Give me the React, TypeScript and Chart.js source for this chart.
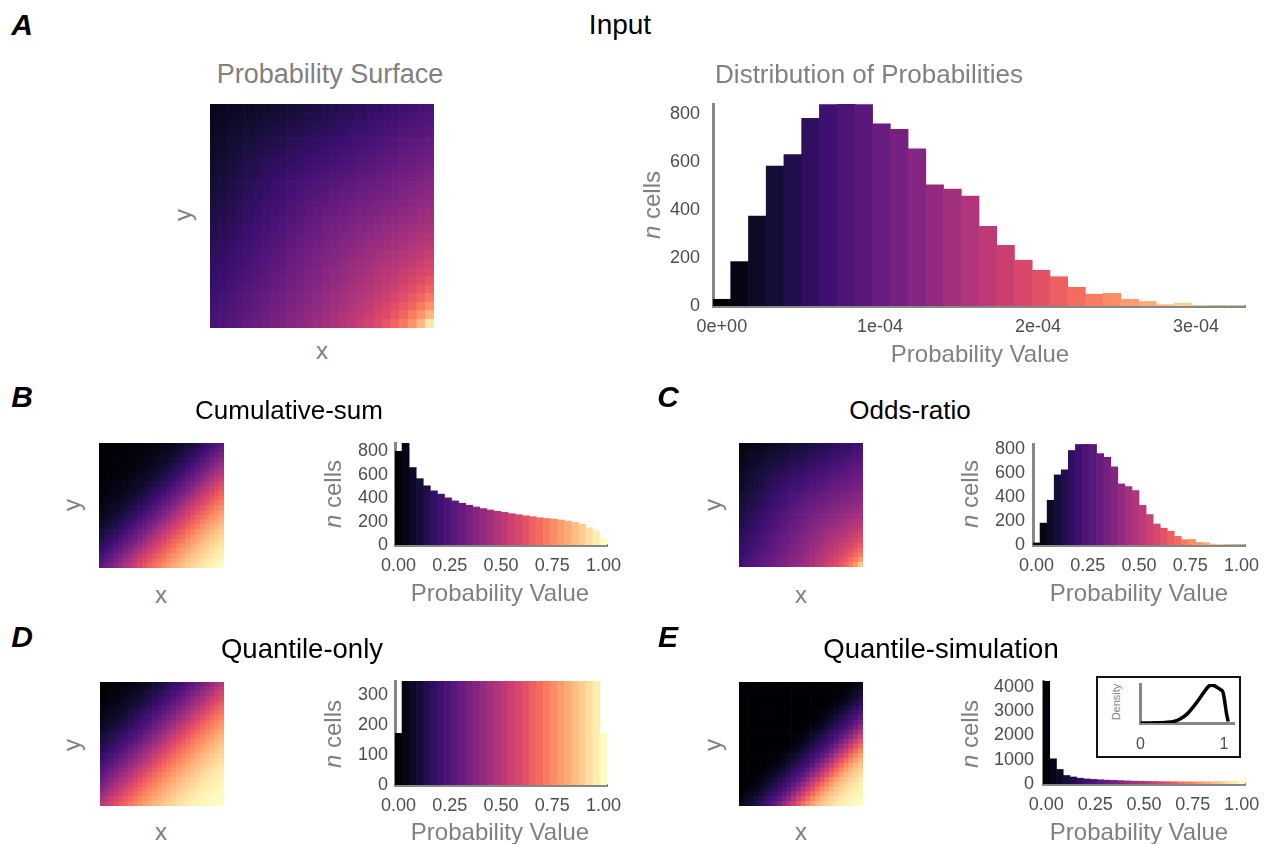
import React, { useEffect, useRef } from "react";
import { Chart, registerables } from "chart.js";
Chart.register(...registerables);

const FONT = '"Liberation Sans", Arial, Helvetica, sans-serif';
const TITLE_GRAY = "#808080";
const TICK_GRAY = "#4d4d4d";
const AXIS_GRAY = "#878787";

// magma colour map stops
const MAGMA = ["#000004", "#140e36", "#3b0f70", "#641a80", "#8c2981", "#b73779", "#de4968", "#f7705c", "#fe9f6d", "#fecf92", "#fcfdbf"];

// ---------- histogram data (counts per bin) ----------
const HIST_A_COUNTS = [28, 185, 375, 583, 631, 782, 840, 842, 840, 759, 736, 655, 505, 487, 458, 332, 253, 191, 149, 122, 78, 49, 53, 28, 19, 6, 12, 2, 1, 1];
const HIST_A_BIN = 1.122e-5;
const HIST_A_Y_MAX = 842;
const HIST_A_Y_TICKS = [0, 200, 400, 600, 800];
const HIST_A_X_TICKS = [0, 1e-4, 2e-4, 3e-4];
const HIST_A_X_LABELS = ["0e+00", "1e-04", "2e-04", "3e-04"];

const UNIT_BIN = 1 / 29;
const UNIT_X_TICKS = [0, 0.25, 0.5, 0.75, 1];
const UNIT_X_LABELS = ["0.00", "0.25", "0.50", "0.75", "1.00"];

const HIST_B_COUNTS = [800, 872, 662, 567, 506, 463, 435, 403, 377, 357, 340, 325, 311, 299, 288, 279, 268, 259, 250, 242, 233, 227, 222, 213, 204, 193, 178, 147, 120, 58];
const HIST_B_Y_MAX = 872;
const HIST_B_Y_TICKS = [0, 200, 400, 600, 800];

const HIST_C_COUNTS = [17, 182, 372, 583, 625, 786, 836, 838, 836, 760, 730, 650, 508, 486, 453, 330, 253, 175, 139, 114, 72, 44, 46, 22, 19, 8, 6, 3, 1, 1];
const HIST_C_Y_MAX = 840;
const HIST_C_Y_TICKS = [0, 200, 400, 600, 800];

const HIST_D_COUNTS = [172, 345, 345, 345, 345, 345, 345, 345, 345, 345, 345, 345, 345, 345, 345, 345, 345, 345, 345, 345, 345, 345, 345, 345, 345, 345, 345, 345, 345, 172];
const HIST_D_Y_MAX = 346;
const HIST_D_Y_TICKS = [0, 100, 200, 300];

const HIST_E_COUNTS = [4250, 1040, 600, 350, 290, 240, 210, 190, 175, 160, 150, 140, 130, 120, 115, 110, 105, 100, 95, 95, 90, 90, 90, 95, 95, 100, 105, 110, 120, 130];
const HIST_E_Y_MAX = 4250;
const HIST_E_Y_TICKS = [0, 1000, 2000, 3000, 4000];

// inset density curve (panel E)
const DENS_X = [0, 0.1, 0.2, 0.3, 0.4, 0.47, 0.55, 0.62, 0.7, 0.76, 0.8, 0.84, 0.88, 0.92, 0.96, 0.99, 1.01, 1.03, 1.05];
const DENS_Y = [0, 0.003, 0.008, 0.015, 0.04, 0.1, 0.22, 0.39, 0.62, 0.81, 0.93, 1.0, 0.99, 0.94, 0.88, 0.8, 0.55, 0.25, 0.04];
const DENS_X_TICKS = [0, 1];
const DENS_X_LABELS = ["0", "1"];

// ---------- surfaces: colour value along the TL->BR diagonal (index i+j) ----------
const HEAT_N = 26;
const SURF_A = [0.04, 0.05, 0.058, 0.066, 0.075, 0.084, 0.093, 0.103, 0.112, 0.122, 0.132, 0.142, 0.152, 0.162, 0.173, 0.184, 0.195, 0.206, 0.218, 0.23, 0.242, 0.254, 0.266, 0.279, 0.292, 0.305, 0.318, 0.331, 0.344, 0.357, 0.37, 0.383, 0.396, 0.409, 0.423, 0.437, 0.452, 0.467, 0.483, 0.5, 0.518, 0.538, 0.56, 0.585, 0.612, 0.643, 0.68, 0.725, 0.78, 0.85, 0.95];
// deviation across the diagonal (index |i-j|)
const SURF_A_DEV = [0, -0.001, -0.003, -0.005, -0.007, -0.009, -0.012, -0.015, -0.018, -0.021, -0.024, -0.027, -0.03, -0.033, -0.036, -0.039, -0.042, -0.045, -0.048, -0.051, -0.054, -0.057, -0.06, -0.063, -0.066, -0.069];
const SURF_B = [0, 0, 0, 0.001, 0.002, 0.004, 0.006, 0.008, 0.011, 0.015, 0.019, 0.024, 0.03, 0.037, 0.045, 0.055, 0.067, 0.081, 0.1, 0.12, 0.143, 0.165, 0.19, 0.218, 0.246, 0.28, 0.315, 0.35, 0.39, 0.43, 0.47, 0.512, 0.552, 0.59, 0.628, 0.663, 0.697, 0.73, 0.765, 0.792, 0.82, 0.845, 0.872, 0.893, 0.912, 0.93, 0.948, 0.964, 0.977, 0.99, 1.0];
const SURF_C = [0.02, 0.03, 0.038, 0.046, 0.055, 0.064, 0.073, 0.083, 0.092, 0.102, 0.112, 0.122, 0.132, 0.142, 0.153, 0.164, 0.175, 0.186, 0.198, 0.21, 0.222, 0.234, 0.246, 0.259, 0.272, 0.285, 0.298, 0.311, 0.324, 0.337, 0.35, 0.363, 0.376, 0.389, 0.403, 0.417, 0.432, 0.447, 0.463, 0.48, 0.498, 0.518, 0.54, 0.563, 0.588, 0.615, 0.647, 0.685, 0.73, 0.79, 0.88];
const SURF_C_DEV = [0, -0.001, -0.003, -0.005, -0.007, -0.009, -0.012, -0.015, -0.018, -0.021, -0.024, -0.027, -0.03, -0.033, -0.036, -0.039, -0.042, -0.045, -0.048, -0.051, -0.054, -0.057, -0.06, -0.063, -0.066, -0.069];
const SURF_D = [0, 0.001, 0.003, 0.007, 0.013, 0.02, 0.029, 0.039, 0.051, 0.065, 0.08, 0.097, 0.115, 0.135, 0.157, 0.18, 0.205, 0.231, 0.259, 0.289, 0.32, 0.353, 0.387, 0.423, 0.461, 0.5, 0.539, 0.577, 0.613, 0.647, 0.68, 0.711, 0.741, 0.769, 0.795, 0.82, 0.843, 0.865, 0.885, 0.903, 0.92, 0.935, 0.949, 0.961, 0.971, 0.98, 0.987, 0.993, 0.997, 0.999, 1.0];
const SURF_E = [0, 0, 0, 0, 0, 0, 0, 0, 0, 0, 0, 0, 0, 0, 0, 0, 0, 0, 0, 0, 0.001, 0.003, 0.006, 0.012, 0.025, 0.045, 0.07, 0.1, 0.13, 0.165, 0.2, 0.235, 0.28, 0.34, 0.41, 0.48, 0.55, 0.62, 0.69, 0.75, 0.8, 0.845, 0.88, 0.905, 0.93, 0.95, 0.965, 0.977, 0.987, 0.994, 1.0];

function hexToRgb(h: string) {
  const n = parseInt(h.slice(1), 16);
  return [(n >> 16) & 255, (n >> 8) & 255, n & 255];
}
const MAGMA_RGB = MAGMA.map(hexToRgb);
function magma(t: number) {
  const v = Math.max(0, Math.min(1, t)) * (MAGMA_RGB.length - 1);
  const i = Math.min(MAGMA_RGB.length - 2, Math.floor(v));
  const f = v - i;
  const a = MAGMA_RGB[i];
  const b = MAGMA_RGB[i + 1];
  const c = a.map((x, k) => Math.round(x + (b[k] - x) * f));
  return `rgb(${c[0]},${c[1]},${c[2]})`;
}

function ChartCanvas({ left, top, width, height, make }: any) {
  const ref = useRef<HTMLCanvasElement | null>(null);
  useEffect(() => {
    const chart = new Chart(ref.current as HTMLCanvasElement, make());
    return () => chart.destroy();
  }, []);
  return (
    <div style={{ position: "absolute", left, top, width, height }}>
      <canvas ref={ref} width={width} height={height} style={{ width, height, display: "block" }} />
    </div>
  );
}

function Heat({ x, y, size, surf, dev }: any) {
  const make = () => {
    const N = HEAT_N;
    const labels = Array.from({ length: N }, (_, i) => String(i));
    const datasets: any[] = [];
    for (let d = 0; d < N; d++) {
      const j = N - 1 - d;
      datasets.push({
        data: labels.map(() => 1),
        backgroundColor: labels.map((_, i) => magma(surf[i + j] + (dev ? dev[Math.abs(i - j)] : 0))),
        borderWidth: 0,
        barPercentage: 1,
        categoryPercentage: 1,
      });
    }
    return {
      type: "bar",
      data: { labels, datasets },
      options: {
        responsive: false,
        animation: false,
        layout: { padding: 0 },
        plugins: { legend: { display: false }, tooltip: { enabled: false } },
        scales: {
          x: { stacked: true, display: false },
          y: { stacked: true, display: false, min: 0, max: N },
        },
      },
    };
  };
  return <ChartCanvas left={x} top={y} width={size} height={size} make={make} />;
}

function Hist({ l, t, w, h, yw, counts, bin, yMax, yTicks, xTicks, xLabels, yPad }: any) {
  const padTop = 32;
  const padRight = 34;
  const xh = 40;
  const make = () => {
    const n = counts.length;
    return {
      type: "bar",
      data: {
        datasets: [
          {
            data: counts.map((c: number, k: number) => ({ x: k * bin, y: c })),
            backgroundColor: counts.map((_: number, k: number) => magma(k / (n - 1))),
            borderWidth: 0,
            barPercentage: 1,
            categoryPercentage: 1,
          },
        ],
      },
      options: {
        responsive: false,
        animation: false,
        layout: { padding: { top: padTop, right: padRight, left: 0, bottom: 0 } },
        plugins: { legend: { display: false }, tooltip: { enabled: false } },
        scales: {
          x: {
            type: "linear",
            offset: false,
            min: -0.5 * bin,
            max: (n - 0.5) * bin,
            z: 1,
            grid: { display: false, drawTicks: false },
            border: { display: true, color: AXIS_GRAY, width: 3 },
            afterBuildTicks: (s: any) => {
              s.ticks = xTicks.map((v: number) => ({ value: v }));
            },
            afterFit: (s: any) => {
              s.height = xh;
            },
            ticks: {
              autoSkip: false,
              maxRotation: 0,
              minRotation: 0,
              padding: 10,
              color: TICK_GRAY,
              font: { family: FONT, size: 18 },
              callback: (_v: any, i: number) => xLabels[i],
            },
          },
          y: {
            type: "linear",
            min: 0,
            max: yMax,
            z: 1,
            grid: { display: false, drawTicks: false },
            border: { display: true, color: AXIS_GRAY, width: 3 },
            afterBuildTicks: (s: any) => {
              s.ticks = yTicks.map((v: number) => ({ value: v }));
            },
            afterFit: (s: any) => {
              s.width = yw;
            },
            ticks: {
              autoSkip: false,
              padding: yPad,
              color: TICK_GRAY,
              font: { family: FONT, size: 18 },
              callback: (v: any) => String(v),
            },
          },
        },
      },
    };
  };
  return <ChartCanvas left={l - yw} top={t - padTop} width={yw + w + padRight} height={padTop + h + xh} make={make} />;
}

function Density({ l, t, w, h }: any) {
  const yw = 4;
  const padTop = 4;
  const padRight = 8;
  const xh = 32;
  const make = () => ({
    type: "line",
    data: {
      datasets: [
        {
          data: DENS_X.map((x, i) => ({ x, y: DENS_Y[i] })),
          borderColor: "#000",
          borderWidth: 3.5,
          pointRadius: 0,
          cubicInterpolationMode: "monotone",
          fill: false,
        },
      ],
    },
    options: {
      responsive: false,
      animation: false,
      layout: { padding: { top: padTop, right: padRight, left: 0, bottom: 0 } },
      plugins: { legend: { display: false }, tooltip: { enabled: false } },
      scales: {
        x: {
          type: "linear",
          min: 0,
          max: 1.12,
          z: 1,
          grid: { display: false, drawTicks: false },
          border: { display: true, color: AXIS_GRAY, width: 3 },
          afterBuildTicks: (s: any) => {
            s.ticks = DENS_X_TICKS.map((v) => ({ value: v }));
          },
          afterFit: (s: any) => {
            s.height = xh;
          },
          ticks: {
            autoSkip: false,
            maxRotation: 0,
            padding: 12,
            color: TICK_GRAY,
            font: { family: FONT, size: 16 },
            callback: (_v: any, i: number) => DENS_X_LABELS[i],
          },
        },
        y: {
          type: "linear",
          min: 0,
          max: 1.03,
          z: 1,
          grid: { display: false, drawTicks: false },
          border: { display: true, color: AXIS_GRAY, width: 3 },
          ticks: { display: false },
          afterFit: (s: any) => {
            s.width = yw;
          },
        },
      },
    },
  });
  return <ChartCanvas left={l - yw} top={t - padTop} width={yw + w + padRight} height={padTop + h + xh} make={make} />;
}

function Txt({ x, y, s, c = "#000", w = 400, i = false, r = 0, children }: any) {
  return (
    <div
      style={{
        position: "absolute",
        left: x,
        top: y,
        transform: `translate(-50%, -50%) rotate(${r}deg)`,
        fontSize: s,
        color: c,
        fontWeight: w,
        fontStyle: i ? "italic" : "normal",
        fontFamily: FONT,
        lineHeight: 1,
        whiteSpace: "nowrap",
      }}
    >
      {children}
    </div>
  );
}

const NCells = () => (
  <>
    <i>n</i> cells
  </>
);

export default function App() {
  return (
    <div style={{ position: "absolute", left: 0, top: 0, width: 1270, height: 844, background: "#fff", overflow: "hidden" }}>
      {/* Panel A */}
      <Heat x={210} y={104} size={224} surf={SURF_A} dev={SURF_A_DEV} />
      <Hist l={713} t={104} w={532} h={202} yw={80} counts={HIST_A_COUNTS} bin={HIST_A_BIN} yMax={HIST_A_Y_MAX} yTicks={HIST_A_Y_TICKS} xTicks={HIST_A_X_TICKS} xLabels={HIST_A_X_LABELS} yPad={13} />
      {/* Panel B */}
      <Heat x={99} y={443} size={125} surf={SURF_B} />
      <Hist l={395} t={443} w={212} h={102} yw={60} counts={HIST_B_COUNTS} bin={UNIT_BIN} yMax={HIST_B_Y_MAX} yTicks={HIST_B_Y_TICKS} xTicks={UNIT_X_TICKS} xLabels={UNIT_X_LABELS} yPad={7} />
      {/* Panel C */}
      <Heat x={739} y={443} size={124} surf={SURF_C} dev={SURF_C_DEV} />
      <Hist l={1033} t={444} w={212} h={101} yw={60} counts={HIST_C_COUNTS} bin={UNIT_BIN} yMax={HIST_C_Y_MAX} yTicks={HIST_C_Y_TICKS} xTicks={UNIT_X_TICKS} xLabels={UNIT_X_LABELS} yPad={8} />
      {/* Panel D */}
      <Heat x={100} y={682} size={124} surf={SURF_D} />
      <Hist l={395} t={681} w={212} h={104} yw={60} counts={HIST_D_COUNTS} bin={UNIT_BIN} yMax={HIST_D_Y_MAX} yTicks={HIST_D_Y_TICKS} xTicks={UNIT_X_TICKS} xLabels={UNIT_X_LABELS} yPad={7} />
      {/* Panel E */}
      <Heat x={739} y={682} size={124} surf={SURF_E} />
      <Hist l={1043} t={681} w={202} h={103} yw={70} counts={HIST_E_COUNTS} bin={UNIT_BIN} yMax={HIST_E_Y_MAX} yTicks={HIST_E_Y_TICKS} xTicks={UNIT_X_TICKS} xLabels={UNIT_X_LABELS} yPad={9} />
      <div style={{ position: "absolute", left: 1096, top: 676, width: 141, height: 78, border: "2px solid #111", background: "#fff" }} />
      <Density l={1128} t={684} w={106} h={39} />

      {/* Text */}
      <Txt x={22} y={25} s={30} w={700} i>A</Txt>
      <Txt x={620} y={25} s={28}>Input</Txt>
      <Txt x={330} y={74} s={27} c={TITLE_GRAY}>Probability Surface</Txt>
      <Txt x={869} y={74} s={26} c={TITLE_GRAY}>Distribution of Probabilities</Txt>
      <Txt x={183} y={215} s={24} c={TITLE_GRAY} r={-90}>y</Txt>
      <Txt x={322} y={351} s={24} c={TITLE_GRAY}>x</Txt>
      <Txt x={652} y={205} s={24} c={TITLE_GRAY} r={-90}><NCells /></Txt>
      <Txt x={980} y={354} s={24} c={TITLE_GRAY}>Probability Value</Txt>

      <Txt x={22} y={397} s={30} w={700} i>B</Txt>
      <Txt x={289} y={410} s={26}>Cumulative-sum</Txt>
      <Txt x={72} y={505} s={24} c={TITLE_GRAY} r={-90}>y</Txt>
      <Txt x={161} y={595} s={24} c={TITLE_GRAY}>x</Txt>
      <Txt x={333} y={494} s={24} c={TITLE_GRAY} r={-90}><NCells /></Txt>
      <Txt x={500} y={593} s={24} c={TITLE_GRAY}>Probability Value</Txt>

      <Txt x={668} y={397} s={30} w={700} i>C</Txt>
      <Txt x={910} y={410} s={26}>Odds-ratio</Txt>
      <Txt x={713} y={505} s={24} c={TITLE_GRAY} r={-90}>y</Txt>
      <Txt x={801} y={595} s={24} c={TITLE_GRAY}>x</Txt>
      <Txt x={970} y={494} s={24} c={TITLE_GRAY} r={-90}><NCells /></Txt>
      <Txt x={1139} y={593} s={24} c={TITLE_GRAY}>Probability Value</Txt>

      <Txt x={22} y={637} s={30} w={700} i>D</Txt>
      <Txt x={302} y={649} s={27.5}>Quantile-only</Txt>
      <Txt x={72} y={745} s={24} c={TITLE_GRAY} r={-90}>y</Txt>
      <Txt x={161} y={832} s={24} c={TITLE_GRAY}>x</Txt>
      <Txt x={333} y={734} s={24} c={TITLE_GRAY} r={-90}><NCells /></Txt>
      <Txt x={500} y={832} s={24} c={TITLE_GRAY}>Probability Value</Txt>

      <Txt x={668} y={637} s={30} w={700} i>E</Txt>
      <Txt x={941} y={649} s={27.5}>Quantile-simulation</Txt>
      <Txt x={713} y={745} s={24} c={TITLE_GRAY} r={-90}>y</Txt>
      <Txt x={801} y={832} s={24} c={TITLE_GRAY}>x</Txt>
      <Txt x={970} y={734} s={24} c={TITLE_GRAY} r={-90}><NCells /></Txt>
      <Txt x={1139} y={832} s={24} c={TITLE_GRAY}>Probability Value</Txt>
      <Txt x={1116} y={702} s={11} c={TITLE_GRAY} r={-90}>Density</Txt>
    </div>
  );
}
